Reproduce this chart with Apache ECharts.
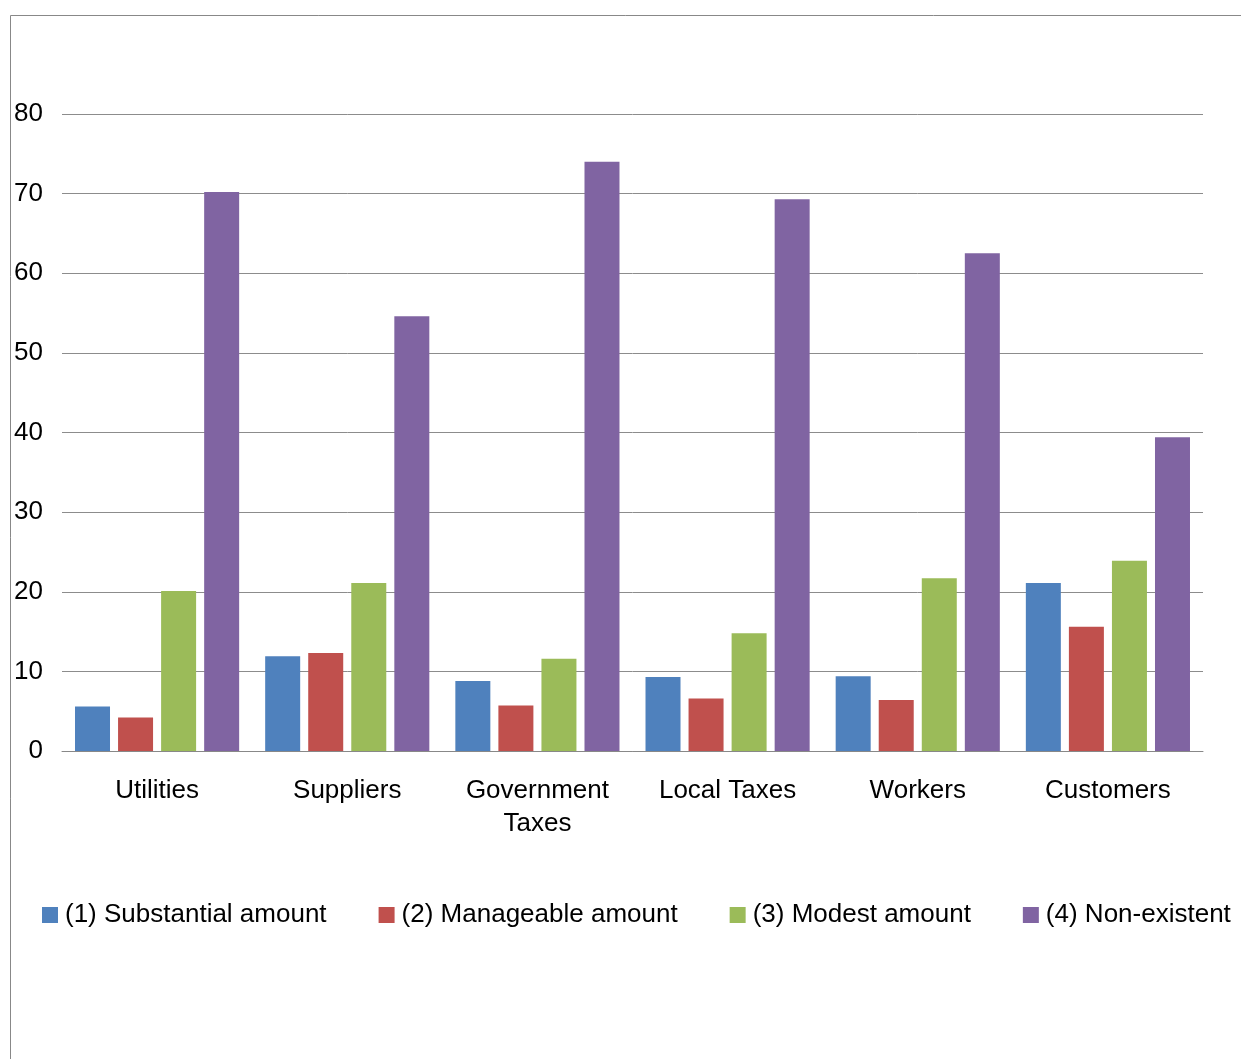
<!DOCTYPE html>
<html><head><meta charset="utf-8">
<script src="https://cdn.jsdelivr.net/npm/echarts@6/dist/echarts.min.js"></script>
<style>html,body{margin:0;padding:0;background:#fff}#c{width:1241px;height:1059px}</style>
</head><body><div id="c"></div>
<script>
const categories = ['Utilities', 'Suppliers', 'Government\nTaxes', 'Local Taxes', 'Workers', 'Customers'];
const seriesNames = ['(1) Substantial amount', '(2) Manageable amount', '(3) Modest amount', '(4) Non-existent'];
const substantial = [5.6, 11.9, 8.8, 9.3, 9.4, 21.1];
const manageable = [4.2, 12.3, 5.7, 6.6, 6.4, 15.6];
const modest = [20.1, 21.1, 11.6, 14.8, 21.7, 23.9];
const nonexistent = [70.2, 54.6, 74.0, 69.3, 62.5, 39.4];
const colors = ['#4f81bd', '#c0504d', '#9bbb59', '#8064a2'];
const values = [substantial, manageable, modest, nonexistent];

const chart = echarts.init(document.getElementById('c'));
const font = 'Liberation Sans, Arial, sans-serif';
chart.setOption({
  animation: false,
  textStyle: { fontFamily: font },
  graphic: [{
    type: 'polyline',
    shape: { points: [[10.5, 1059], [10.5, 15.5], [1241, 15.5]] },
    style: { stroke: '#888', lineWidth: 1, fill: null },
    silent: true
  }],
  grid: { left: 62, right: 38, top: 114, bottom: 308, containLabel: false },
  legend: {
    left: 42, top: 902, padding: 0,
    itemWidth: 16, itemHeight: 16, itemGap: 52,
    icon: 'rect',
    textStyle: { fontSize: 26, color: '#000', fontFamily: font, padding: [0, 0, 0, 2] },
    data: seriesNames
  },
  xAxis: {
    type: 'category',
    data: categories,
    axisLine: { show: true, lineStyle: { color: '#888', width: 1 } },
    axisTick: { show: false },
    axisLabel: { fontSize: 26, color: '#000', margin: 23, lineHeight: 33, interval: 0, fontFamily: font }
  },
  yAxis: {
    type: 'value', min: 0, max: 80, interval: 10,
    axisLine: { show: false },
    axisTick: { show: false },
    splitLine: { lineStyle: { color: '#8c8c8c', width: 1 } },
    axisLabel: { fontSize: 26, color: '#000', margin: 19, fontFamily: font }
  },
  series: seriesNames.map((n, i) => ({
    name: n, type: 'bar', data: values[i],
    barWidth: 35, barGap: '23%',
    itemStyle: { color: colors[i] }
  }))
});
</script></body></html>
